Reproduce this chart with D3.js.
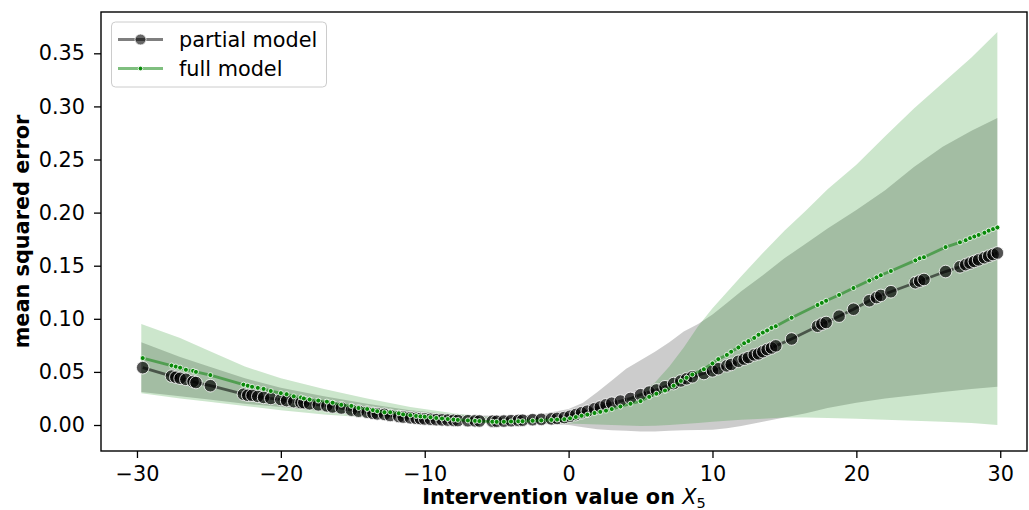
<!DOCTYPE html>
<html>
<head>
<meta charset="utf-8">
<script src="https://cdn.jsdelivr.net/npm/d3@7"></script>
<style>
  body { margin: 0; background: #fff; }
  svg { display: block; font-family: "DejaVu Sans", sans-serif; }
</style>
</head>
<body>
<div id="chart"></div>
<script>
// Sampled intervention values and the error of each model at them
const interventionX = [
  -29.6, -27.6, -27.3, -27.0, -26.6, -26.1, -25.9, -24.9, -22.6, -22.3, -22.0, -21.6, -21.2, -20.7,
  -20.0, -19.6, -19.1, -18.6, -18.4, -18.0, -17.4, -16.8, -16.4, -15.8, -15.1, -14.6, -14.0, -13.6,
  -13.3, -12.8, -12.4, -11.8, -11.5, -11.0, -10.6, -10.3, -10.0, -9.6, -9.2, -8.8, -8.4, -8.0, -7.7,
  -7.0, -6.5, -6.2, -5.3, -5.0, -4.5, -4.0, -3.5, -3.2, -2.5, -1.9, -1.2, -0.8, -0.3, 0.1, 0.5, 0.9,
  1.3, 1.8, 2.2, 2.6, 3.0, 3.6, 4.3, 5.0, 5.6, 6.1, 6.7, 7.3, 7.8, 8.2, 8.6, 9.4, 10.0, 10.4, 11.0,
  11.3, 11.8, 12.2, 12.5, 12.9, 13.2, 13.5, 13.8, 14.1, 14.4, 15.5, 17.3, 17.6, 17.9, 18.8, 19.8,
  20.9, 21.4, 21.7, 22.4, 24.1, 24.4, 24.7, 26.2, 27.2, 27.6, 27.9, 28.2, 28.5, 28.9, 29.2, 29.5, 29.8
];
const partialMSE = [
  0.054, 0.046, 0.045, 0.044, 0.043, 0.041, 0.040, 0.037, 0.029, 0.028, 0.028, 0.027, 0.026, 0.025,
  0.024, 0.023, 0.022, 0.021, 0.021, 0.020, 0.019, 0.018, 0.017, 0.016, 0.014, 0.013, 0.012, 0.011,
  0.0105, 0.010, 0.009, 0.008, 0.0075, 0.0068, 0.0063, 0.006, 0.0057, 0.0054, 0.005, 0.0048, 0.0046, 0.0044, 0.0042,
  0.004, 0.0039, 0.0038, 0.0036, 0.0035, 0.0037, 0.004, 0.0043, 0.0045, 0.005, 0.0053, 0.0058, 0.0062, 0.007, 0.0083, 0.0098, 0.0115,
  0.013, 0.0153, 0.017, 0.019, 0.0205, 0.0225, 0.025, 0.0285, 0.031, 0.033, 0.036, 0.039, 0.0415, 0.0435, 0.0454, 0.0485, 0.051, 0.053, 0.0557,
  0.057, 0.060, 0.062, 0.0635, 0.066, 0.067, 0.069, 0.071, 0.0725, 0.0745, 0.081, 0.093, 0.095, 0.0965, 0.1025, 0.109,
  0.117, 0.120, 0.122, 0.1255, 0.134, 0.1355, 0.137, 0.1445, 0.149, 0.151, 0.1525, 0.154, 0.1555, 0.1575, 0.159, 0.1605, 0.162
];
const fullMSE = [
  0.063, 0.056, 0.055, 0.054, 0.052, 0.051, 0.050, 0.047, 0.038, 0.037, 0.036, 0.035, 0.034, 0.032,
  0.030, 0.029, 0.027, 0.026, 0.025, 0.024, 0.023, 0.022, 0.021, 0.019, 0.018, 0.016, 0.015, 0.014,
  0.013, 0.012, 0.012, 0.011, 0.010, 0.0092, 0.0085, 0.0081, 0.0078, 0.0073, 0.0066, 0.0061, 0.0056, 0.0051, 0.0048,
  0.0043, 0.0039, 0.0037, 0.0031, 0.003, 0.0031, 0.0033, 0.0035, 0.0036, 0.004, 0.0043, 0.0048, 0.0051, 0.0055, 0.0063, 0.0075, 0.0087,
  0.0098, 0.0113, 0.0124, 0.0135, 0.015, 0.0174, 0.020, 0.0225, 0.0265, 0.0295, 0.0325, 0.037, 0.0415, 0.0445, 0.0475, 0.0525, 0.058, 0.062, 0.066,
  0.069, 0.073, 0.077, 0.079, 0.082, 0.085, 0.087, 0.089, 0.0915, 0.093, 0.101, 0.113, 0.115, 0.117, 0.1225, 0.129,
  0.136, 0.139, 0.141, 0.145, 0.155, 0.157, 0.158, 0.1675, 0.172, 0.174, 0.176, 0.1775, 0.179, 0.181, 0.183, 0.1845, 0.186
];

// Uncertainty bands
const bandX = [-29.7, -27, -25, -22.5, -20, -17, -14, -11, -8, -6, -4, -2, 0, 1, 2, 3, 4, 5, 6, 7, 8, 9,
  10, 11, 12, 13.5, 15, 16.5, 18, 20, 22, 24, 26, 28, 29.8];
const partialLower = [0.031, 0.027, 0.024, 0.020, 0.017, 0.013, 0.009, 0.006, 0.004, 0.003, 0.002, 0.001,
  0.0, -0.002, -0.004, -0.005, -0.0055, -0.006, -0.006, -0.0055, -0.005, -0.0048, -0.0045, -0.003, -0.001,
  0.003, 0.007, 0.011, 0.016, 0.021, 0.025, 0.028, 0.031, 0.034, 0.036];
const partialUpper = [0.078, 0.064, 0.055, 0.044, 0.035, 0.027, 0.020, 0.014, 0.010, 0.009, 0.009, 0.010,
  0.015, 0.021, 0.031, 0.042, 0.053, 0.061, 0.069, 0.078, 0.088, 0.095, 0.104, 0.115, 0.126,
  0.141, 0.157, 0.171, 0.185, 0.2025, 0.221, 0.243, 0.262, 0.277, 0.289];
const fullLower = [0.030, 0.025, 0.022, 0.018, 0.014, 0.010, 0.007, 0.005, 0.003, 0.002, 0.0015, 0.0015,
  0.0015, 0.001, 0.0005, 0.0, -0.0005, -0.001, -0.0008, 0.0, 0.001, 0.002, 0.003, 0.004, 0.005,
  0.006, 0.007, 0.007, 0.0065, 0.006, 0.005, 0.004, 0.003, 0.002, 0.0];
const fullUpper = [0.095, 0.082, 0.070, 0.055, 0.044, 0.034, 0.025, 0.017, 0.011, 0.008, 0.007, 0.007,
  0.009, 0.011, 0.014, 0.018, 0.024, 0.031, 0.040, 0.055, 0.073, 0.093, 0.110, 0.125, 0.140,
  0.162, 0.183, 0.202, 0.222, 0.245, 0.272, 0.298, 0.322, 0.346, 0.370];

const xTicks = [-30, -20, -10, 0, 10, 20, 30];
const yTicks = [0, 0.05, 0.10, 0.15, 0.20, 0.25, 0.30, 0.35];
const seriesNames = ["partial model", "full model"];

// Layout
const width = 1029;
const height = 510;
const margin = { top: 12, right: 2, bottom: 59, left: 101 };
const fontSize = 20.8;

const svg = d3.select("#chart")
  .append("svg")
  .attr("width", width)
  .attr("height", height);

const xScale = d3.scaleLinear()
  .domain([-32.5, 31.86])
  .range([margin.left, width - margin.right]);

const yScale = d3.scaleLinear()
  .domain([-0.02448, 0.3889])
  .range([height - margin.bottom, margin.top]);

svg.append("clipPath").attr("id", "plot-clip")
  .append("rect")
  .attr("x", margin.left).attr("y", margin.top)
  .attr("width", width - margin.left - margin.right)
  .attr("height", height - margin.top - margin.bottom);

const plot = svg.append("g").attr("clip-path", "url(#plot-clip)");

// Bands: partial (grey) first, full (green) over it
const bandData = (lo, hi) => bandX.map((x, i) => ({ x: x, lo: lo[i], hi: hi[i] }));
const area = d3.area()
  .x(d => xScale(d.x))
  .y0(d => yScale(d.lo))
  .y1(d => yScale(d.hi));

plot.append("path")
  .datum(bandData(partialLower, partialUpper))
  .attr("fill", "black")
  .attr("fill-opacity", 0.2)
  .attr("d", area);

plot.append("path")
  .datum(bandData(fullLower, fullUpper))
  .attr("fill", "green")
  .attr("fill-opacity", 0.2)
  .attr("d", area);

const partialPts = interventionX.map((x, i) => ({ x: x, y: partialMSE[i] }));
const fullPts = interventionX.map((x, i) => ({ x: x, y: fullMSE[i] }));

const line = d3.line()
  .x(d => xScale(d.x))
  .y(d => yScale(d.y));

// Partial model line and markers
plot.append("path")
  .datum(partialPts)
  .attr("fill", "none")
  .attr("stroke", "black")
  .attr("stroke-opacity", 0.55)
  .attr("stroke-width", 2.8)
  .attr("d", line);

plot.append("g")
  .selectAll("circle")
  .data(partialPts)
  .join("circle")
  .attr("cx", d => xScale(d.x))
  .attr("cy", d => yScale(d.y))
  .attr("r", 6.3)
  .attr("fill", "black")
  .attr("fill-opacity", 0.68)
  .attr("stroke", "white")
  .attr("stroke-opacity", 0.8)
  .attr("stroke-width", 1);

// Full model line and markers
plot.append("path")
  .datum(fullPts)
  .attr("fill", "none")
  .attr("stroke", "green")
  .attr("stroke-opacity", 0.5)
  .attr("stroke-width", 2.8)
  .attr("d", line);

plot.append("g")
  .selectAll("circle")
  .data(fullPts)
  .join("circle")
  .attr("cx", d => xScale(d.x))
  .attr("cy", d => yScale(d.y))
  .attr("r", 2.5)
  .attr("fill", "#0a8a0a")
  .attr("stroke", "white")
  .attr("stroke-width", 0.8);

// Axes
const xAxis = svg.append("g")
  .attr("transform", `translate(0, ${height - margin.bottom})`)
  .call(d3.axisBottom(xScale).tickValues(xTicks).tickSize(7).tickPadding(8).tickFormat(d3.format("d")));

const yAxis = svg.append("g")
  .attr("transform", `translate(${margin.left}, 0)`)
  .call(d3.axisLeft(yScale).tickValues(yTicks).tickSize(7).tickPadding(9).tickFormat(d3.format(".2f")));

[xAxis, yAxis].forEach(g => {
  g.select(".domain").remove();
  g.selectAll(".tick line").attr("stroke", "black").attr("stroke-width", 1.3);
  g.selectAll(".tick text")
    .attr("fill", "black")
    .style("font-family", "DejaVu Sans")
    .style("font-size", fontSize + "px");
});

// Frame
svg.append("rect")
  .attr("x", margin.left)
  .attr("y", margin.top)
  .attr("width", width - margin.left - margin.right)
  .attr("height", height - margin.top - margin.bottom)
  .attr("fill", "none")
  .attr("stroke", "black")
  .attr("stroke-width", 1.4);

// Axis labels
const xLabel = svg.append("text")
  .attr("x", (margin.left + width - margin.right) / 2)
  .attr("y", 504)
  .attr("text-anchor", "middle")
  .style("font-size", fontSize + "px")
  .style("font-weight", "bold");
xLabel.append("tspan").text("Intervention value on ");
xLabel.append("tspan").style("font-style", "italic").style("font-weight", "normal").text("X");
xLabel.append("tspan")
  .style("font-weight", "normal")
  .style("font-size", (fontSize * 0.7) + "px")
  .attr("dy", 4)
  .text("5");

svg.append("text")
  .attr("transform", "rotate(-90)")
  .attr("x", -(margin.top + height - margin.bottom) / 2)
  .attr("y", 29)
  .attr("text-anchor", "middle")
  .style("font-size", fontSize + "px")
  .style("font-weight", "bold")
  .text("mean squared error");

// Legend
const legend = svg.append("g");
legend.append("rect")
  .attr("x", 111.5).attr("y", 22)
  .attr("width", 215).attr("height", 65)
  .attr("rx", 4)
  .attr("fill", "white")
  .attr("fill-opacity", 0.8)
  .attr("stroke", "#cccccc")
  .attr("stroke-width", 1);

const legendRows = [
  { name: seriesNames[0], y: 39.5, stroke: "black", op: 0.5, r: 5.5, fill: "black", fop: 0.6 },
  { name: seriesNames[1], y: 68.5, stroke: "green", op: 0.5, r: 2.3, fill: "#0a8a0a", fop: 1 }
];
legendRows.forEach(row => {
  legend.append("line")
    .attr("x1", 118).attr("x2", 163)
    .attr("y1", row.y).attr("y2", row.y)
    .attr("stroke", row.stroke)
    .attr("stroke-opacity", row.op)
    .attr("stroke-width", 2.8);
  legend.append("circle")
    .attr("cx", 140.5).attr("cy", row.y)
    .attr("r", row.r)
    .attr("fill", row.fill)
    .attr("fill-opacity", row.fop)
    .attr("stroke", "white")
    .attr("stroke-width", 0.8);
  legend.append("text")
    .attr("x", 179)
    .attr("y", row.y + 7.5)
    .style("font-size", fontSize + "px")
    .text(row.name);
});
</script>
</body>
</html>
